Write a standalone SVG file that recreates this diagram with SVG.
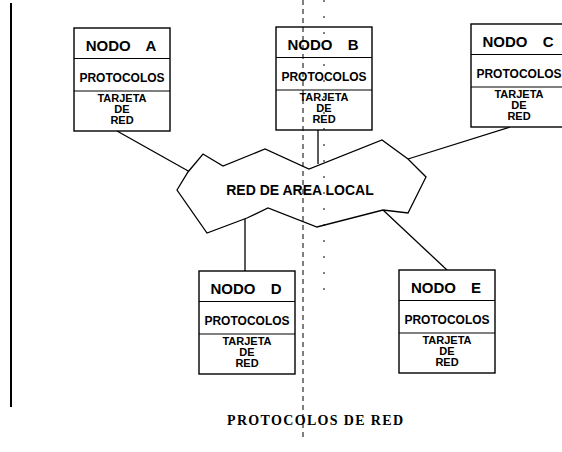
<svg xmlns="http://www.w3.org/2000/svg" width="562" height="452" viewBox="0 0 562 452">
<style>
.box{fill:#fff;stroke:#000;stroke-width:1.4}
.div{stroke:#000;stroke-width:1.2}
.t{font-family:"Liberation Sans",Arial,sans-serif;font-weight:bold;fill:#000;text-anchor:middle}
.n{font-size:15px;word-spacing:11px}
.p{font-size:12px}
.r{font-size:11px}
.c{stroke:#000;stroke-width:1.3;fill:none}
.fold{stroke:#000;stroke-width:1;fill:none}
</style>
<defs>
<g id="cells">
<rect class="box" x="0" y="0" width="96" height="103"/>
<line class="div" x1="0" y1="30.5" x2="96" y2="30.5"/>
<line class="div" x1="0" y1="63" x2="96" y2="63"/>
</g>
</defs>
<line x1="11" y1="3" x2="11" y2="407" stroke="#000" stroke-width="2"/>
<g id="connectors">
<line class="c" x1="117" y1="131" x2="190" y2="172"/>
<line class="c" x1="318" y1="129" x2="318" y2="164"/>
<line class="c" x1="408" y1="159" x2="510" y2="127"/>
<line class="c" x1="245" y1="218" x2="245" y2="271"/>
<line class="c" x1="383" y1="210" x2="447" y2="270"/>
</g>
<g id="cloud">
<polygon points="177,190 188,172 203,154 223,166 265,149 309,169 382,140 408,159 426,177 408,213 383,210 317,227 268,208 247,218 207,233" fill="#fff" stroke="#000" stroke-width="1.3"/>
<text class="t" x="300" y="195" font-size="14">RED DE AREA LOCAL</text>
</g>
<g id="nodeA" transform="translate(74,28)">
<use href="#cells"/>
<text class="t n" x="47" y="23">NODO A</text>
<text class="t p" x="48" y="54">PROTOCOLOS</text>
<text class="t r" x="48" y="74">TARJETA</text>
<text class="t r" x="48" y="85">DE</text>
<text class="t r" x="48" y="96">RED</text>
</g>
<g id="nodeB" transform="translate(276,27)">
<use href="#cells"/>
<text class="t n" x="47" y="23">NODO B</text>
<text class="t p" x="48" y="54">PROTOCOLOS</text>
<text class="t r" x="48" y="74">TARJETA</text>
<text class="t r" x="48" y="85">DE</text>
<text class="t r" x="48" y="96">RED</text>
</g>
<g id="nodeC" transform="translate(471,24)">
<use href="#cells"/>
<text class="t n" x="47" y="23">NODO C</text>
<text class="t p" x="48" y="54">PROTOCOLOS</text>
<text class="t r" x="48" y="74">TARJETA</text>
<text class="t r" x="48" y="85">DE</text>
<text class="t r" x="48" y="96">RED</text>
</g>
<g id="nodeD" transform="translate(199,271)">
<use href="#cells"/>
<text class="t n" x="47" y="23">NODO D</text>
<text class="t p" x="48" y="54">PROTOCOLOS</text>
<text class="t r" x="48" y="74">TARJETA</text>
<text class="t r" x="48" y="85">DE</text>
<text class="t r" x="48" y="96">RED</text>
</g>
<g id="nodeE" transform="translate(399,270)">
<use href="#cells"/>
<text class="t n" x="47" y="23">NODO E</text>
<text class="t p" x="48" y="54">PROTOCOLOS</text>
<text class="t r" x="48" y="74">TARJETA</text>
<text class="t r" x="48" y="85">DE</text>
<text class="t r" x="48" y="96">RED</text>
</g>
<line class="fold" x1="303" y1="0" x2="303" y2="440" stroke-dasharray="5 4"/>
<line class="fold" x1="324" y1="0" x2="324" y2="300" stroke-dasharray="2 14" stroke-width="0.8"/>
<text x="315" y="425" font-family="'Liberation Serif','Times New Roman',serif" font-weight="bold" font-size="14" text-anchor="middle" textLength="176">PROTOCOLOS DE RED</text>
</svg>
